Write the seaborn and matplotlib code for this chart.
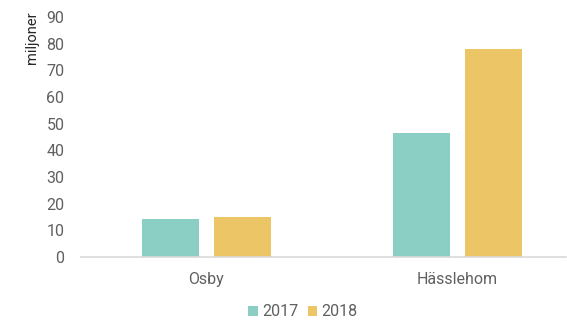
import matplotlib
matplotlib.use("Agg")
import matplotlib.pyplot as plt
import seaborn as sns
import pandas as pd

# Data
categories = ["Osby", "Hässlehom"]
years = ["2017", "2018"]
values_2017 = [14.3, 46.5]
values_2018 = [15.0, 78.0]
y_ticks = [0, 10, 20, 30, 40, 50, 60, 70, 80, 90]

df = pd.DataFrame({
    "kommun": categories * 2,
    "år": [years[0]] * len(categories) + [years[1]] * len(categories),
    "värde": values_2017 + values_2018,
})

sns.set_theme(style="white")
plt.rcParams["font.family"] = ["Roboto", "DejaVu Sans"]
text_color = "#606060"

fig = plt.figure(figsize=(5.67, 3.25), dpi=100)
ax = fig.add_axes([81 / 567, 68 / 325, (566 - 81) / 567, (257 - 17) / 325])

palette = {"2017": "#8bcec3", "2018": "#ecc566"}
sns.barplot(data=df, x="kommun", y="värde", hue="år", hue_order=years,
            palette=palette, width=0.574, gap=0.21, saturation=1,
            edgecolor="none", ax=ax)

ax.set_xlim(-0.5, 1.434)
ax.set_ylim(0, 90)
ax.set_yticks(y_ticks)
ax.set_yticklabels([str(t) for t in y_ticks])
ax.set_xlabel("")
ax.set_ylabel("")

for s in ["top", "right", "left"]:
    ax.spines[s].set_visible(False)
ax.spines["bottom"].set_color("#d9d9d9")
ax.spines["bottom"].set_linewidth(1.2)

ax.tick_params(axis="y", length=0, pad=12, labelsize=11.5, labelcolor=text_color)
ax.tick_params(axis="x", length=0, pad=11, labelsize=11.5, labelcolor=text_color)

fig.text(32 / 567, 1 - 38 / 325, "miljoner", rotation=90, ha="center", va="center",
         fontsize=10.5, color="#262626")

leg = ax.legend(loc="center", bbox_to_anchor=(303 / 567, 1 - 312 / 325),
                bbox_transform=fig.transFigure, ncol=2, frameon=False,
                handlelength=0.6, handleheight=0.6, handletextpad=0.25,
                columnspacing=0.6, fontsize=11.5)
for t in leg.get_texts():
    t.set_color(text_color)

fig.savefig("out.png", dpi=100)
